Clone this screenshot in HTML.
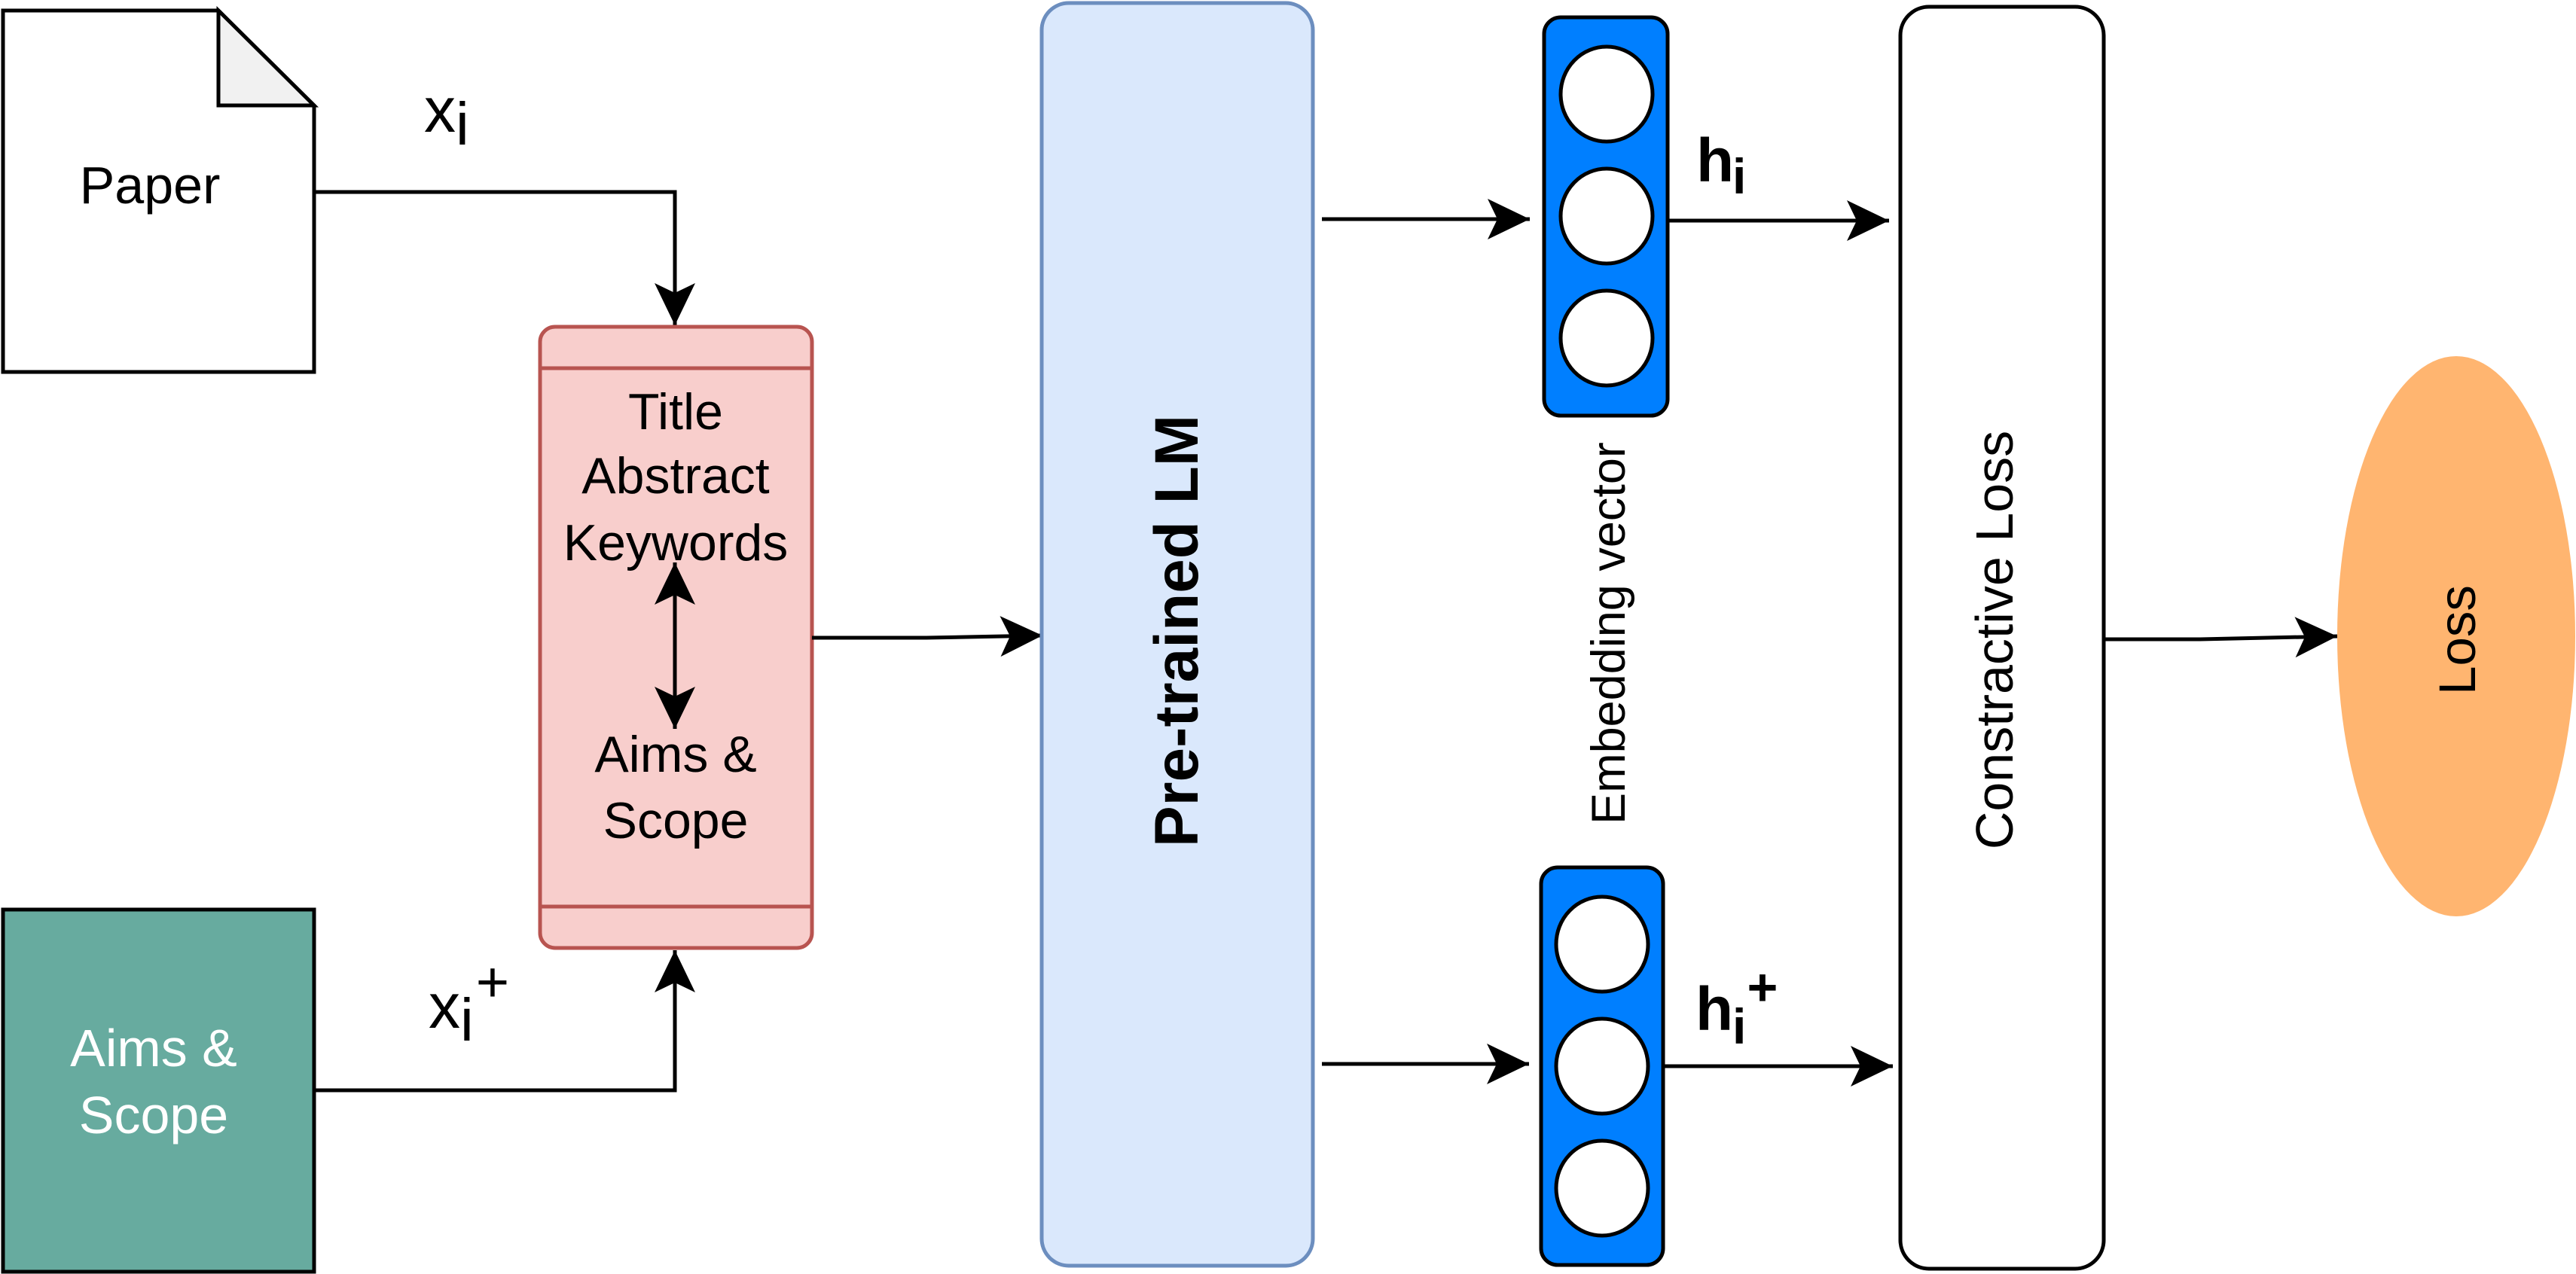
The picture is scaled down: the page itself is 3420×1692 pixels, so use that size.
<!DOCTYPE html>
<html><head><meta charset="utf-8"><style>
html,body{margin:0;padding:0;background:#fff;}
svg{display:block;}
text{font-family:"Liberation Sans",Arial,sans-serif;}
</style></head><body>
<svg width="3420" height="1692" viewBox="0 0 3420 1692" xmlns="http://www.w3.org/2000/svg">
<defs>
<marker id="a" markerUnits="userSpaceOnUse" markerWidth="60" markerHeight="60" viewBox="-58 -30 60 60" refX="0" refY="0" orient="auto">
<path d="M0,0 L-56,-27 L-43,0 L-56,27 Z" fill="#000"/>
</marker>
<marker id="as" markerUnits="userSpaceOnUse" markerWidth="60" markerHeight="60" viewBox="-58 -30 60 60" refX="0" refY="0" orient="auto-start-reverse">
<path d="M0,0 L-56,-27 L-43,0 L-56,27 Z" fill="#000"/>
</marker>
</defs>

<!-- Paper -->
<polygon points="4,14 290,14 417,140 417,494 4,494" fill="#fff" stroke="#000" stroke-width="5"/>
<polygon points="290,14 290,140 417,140" fill="#f1f1f1" stroke="#000" stroke-width="5" stroke-linejoin="miter"/>
<text x="199" y="270" font-size="70" text-anchor="middle">Paper</text>

<!-- Aims & Scope green -->
<rect x="4" y="1208" width="413" height="481" fill="#67AB9F" stroke="#000" stroke-width="5"/>
<text x="204" y="1416" font-size="70" text-anchor="middle" fill="#fff">Aims &amp;</text>
<text x="204" y="1505" font-size="70" text-anchor="middle" fill="#fff">Scope</text>

<!-- connectors left -->
<polyline points="417,255 896,255 896,432" fill="none" stroke="#000" stroke-width="5" marker-end="url(#a)"/>
<polyline points="417,1448 896,1448 896,1262" fill="none" stroke="#000" stroke-width="5" marker-end="url(#a)"/>
<text x="563" y="175" font-size="84">x</text>
<text x="605" y="192" font-size="80">i</text>
<text x="569" y="1365" font-size="84">x</text>
<text x="611" y="1382" font-size="80">i</text>
<text x="654" y="1330" font-size="76" text-anchor="middle">+</text>

<!-- pink box -->
<rect x="717" y="434" width="361" height="825" rx="20" fill="#F8CECC" stroke="#B85450" stroke-width="5"/>
<line x1="717" y1="489" x2="1078" y2="489" stroke="#B85450" stroke-width="5"/>
<line x1="717" y1="1204" x2="1078" y2="1204" stroke="#B85450" stroke-width="5"/>
<text x="897" y="570" font-size="68" text-anchor="middle">Title</text>
<text x="897" y="655" font-size="68" text-anchor="middle">Abstract</text>
<text x="897" y="744" font-size="68" text-anchor="middle">Keywords</text>
<text x="897" y="1025" font-size="68" text-anchor="middle">Aims &amp;</text>
<text x="897" y="1113" font-size="68" text-anchor="middle">Scope</text>
<line x1="896" y1="747" x2="896" y2="968" stroke="#000" stroke-width="5" marker-start="url(#as)" marker-end="url(#a)"/>

<!-- pink -> LM -->
<polyline points="1078,847 1230,847 1384,844" fill="none" stroke="#000" stroke-width="5" marker-end="url(#a)"/>

<!-- LM -->
<rect x="1383" y="4" width="360" height="1677" rx="36" fill="#DAE8FC" stroke="#6C8EBF" stroke-width="5"/>
<text transform="translate(1590,838) rotate(-90)" font-size="82" font-weight="bold" text-anchor="middle">Pre-trained LM</text>

<!-- LM -> embeddings -->
<line x1="1755" y1="291" x2="2031" y2="291" stroke="#000" stroke-width="5" marker-end="url(#a)"/>
<line x1="1755" y1="1413" x2="2030" y2="1413" stroke="#000" stroke-width="5" marker-end="url(#a)"/>

<!-- top embedding -->
<rect x="2050" y="23" width="164" height="529" rx="22" fill="#007FFF" stroke="#000" stroke-width="5"/>
<ellipse cx="2133" cy="125" rx="61" ry="63" fill="#fff" stroke="#000" stroke-width="5"/>
<ellipse cx="2133" cy="287" rx="61" ry="63" fill="#fff" stroke="#000" stroke-width="5"/>
<ellipse cx="2133" cy="449" rx="61" ry="63" fill="#fff" stroke="#000" stroke-width="5"/>

<!-- bottom embedding -->
<rect x="2046" y="1152" width="162" height="528" rx="22" fill="#007FFF" stroke="#000" stroke-width="5"/>
<ellipse cx="2127" cy="1254" rx="61" ry="63" fill="#fff" stroke="#000" stroke-width="5"/>
<ellipse cx="2127" cy="1416" rx="61" ry="63" fill="#fff" stroke="#000" stroke-width="5"/>
<ellipse cx="2127" cy="1578" rx="61" ry="63" fill="#fff" stroke="#000" stroke-width="5"/>

<text transform="translate(2157,841) rotate(-90)" font-size="63" text-anchor="middle">Embedding vector</text>

<!-- h labels -->
<text x="2252" y="241" font-size="82" font-weight="bold">h</text>
<text x="2300" y="257" font-size="66" font-weight="bold">i</text>
<text x="2251" y="1368" font-size="82" font-weight="bold">h</text>
<text x="2300" y="1386" font-size="66" font-weight="bold">i</text>
<text x="2340" y="1335" font-size="70" font-weight="bold" text-anchor="middle">+</text>

<line x1="2216" y1="293" x2="2508" y2="293" stroke="#000" stroke-width="5" marker-end="url(#a)"/>
<line x1="2210" y1="1416" x2="2513" y2="1416" stroke="#000" stroke-width="5" marker-end="url(#a)"/>

<!-- Constractive -->
<rect x="2523" y="9" width="270" height="1676" rx="38" fill="#fff" stroke="#000" stroke-width="5"/>
<text transform="translate(2672,850) rotate(-90)" font-size="70" text-anchor="middle">Constractive Loss</text>

<polyline points="2793,849 2920,849 3103,845" fill="none" stroke="#000" stroke-width="5" marker-end="url(#a)"/>

<!-- Loss -->
<ellipse cx="3261" cy="845" rx="158" ry="372" fill="#FFB570"/>
<text transform="translate(3286,850) rotate(-90)" font-size="69" text-anchor="middle">Loss</text>
</svg>
</body></html>
